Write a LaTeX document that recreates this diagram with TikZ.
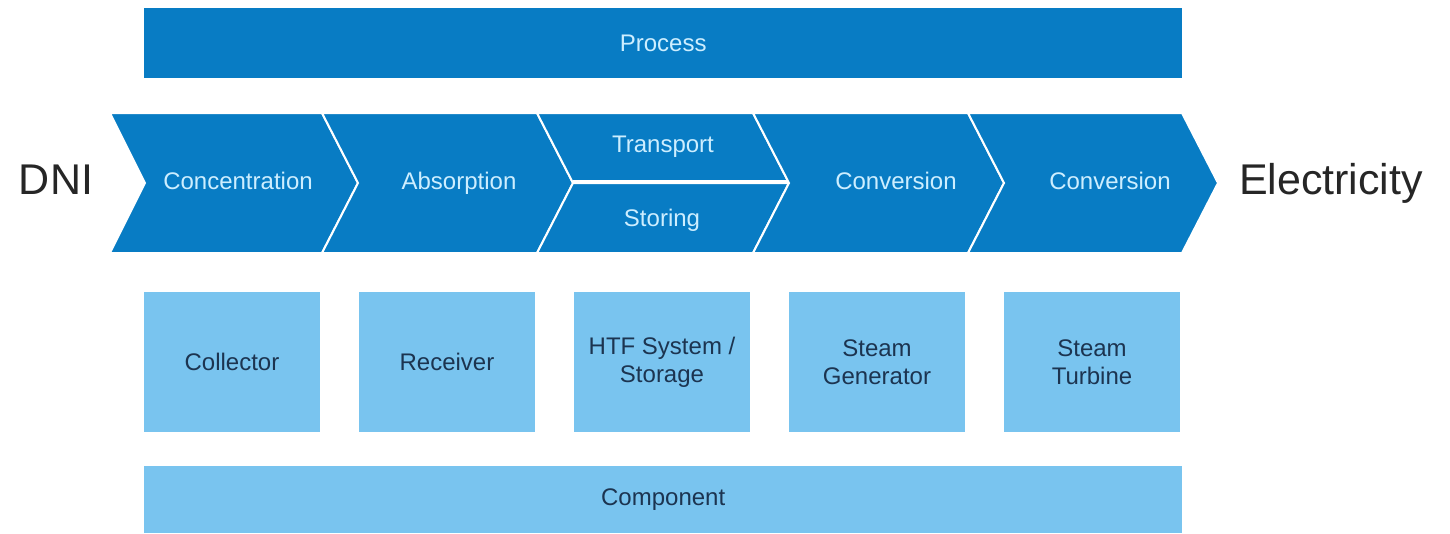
\documentclass[tikz,border=0pt]{standalone}
\usepackage{fontspec}
\setmainfont{Liberation Sans}
\definecolor{darkblue}{RGB}{8,124,196}
\definecolor{lightblue}{RGB}{121,196,239}
\definecolor{lighttext}{RGB}{205,238,255}
\definecolor{darktext}{RGB}{28,52,80}
\tikzset{
  chev/.style={fill=darkblue, draw=white, line width=2pt, line join=miter},
  chevtext/.style={text=lighttext, font=\fontsize{24}{28}\selectfont, inner sep=0pt, text height=17pt, text depth=5pt},
  compbox/.style={fill=lightblue, draw=none, minimum width=176pt, minimum height=140pt, inner sep=0pt,
    text=darktext, font=\fontsize{24}{28}\selectfont, align=center},
  bigtext/.style={text=black!85, font=\fontsize{43}{48}\selectfont, inner sep=0pt, text height=31pt, text depth=9pt}
}
\begin{document}
\begin{tikzpicture}[x=1pt,y=-1pt]
\useasboundingbox (0,0) rectangle (1450,533);
% Process bar
\node[fill=darkblue, minimum width=1038pt, minimum height=70pt, inner sep=0pt, anchor=north west,
  text=lighttext, font=\fontsize{24}{28}\selectfont] (process) at (144,8) {Process};
% chevrons
\draw[chev] (110,113) -- (322,113) -- (358,183) -- (322,253) -- (110,253) -- (145,183) -- cycle;
\draw[chev] (322,113) -- (537,113) -- (573,183) -- (537,253) -- (322,253) -- (358,183) -- cycle;
\draw[chev] (537,113) -- (753,113) -- (789,183) -- (573,183) -- cycle;
\draw[chev] (573,183) -- (789,183) -- (753,253) -- (537,253) -- cycle;
\draw[white, line width=4pt] (573,182) -- (789,182);
\draw[chev] (753,113) -- (968,113) -- (1004,183) -- (968,253) -- (753,253) -- (789,183) -- cycle;
\draw[chev] (968,113) -- (1182,113) -- (1218,183) -- (1182,253) -- (968,253) -- (1004,183) -- cycle;
\node[chevtext] (conc) at (238,183) {Concentration};
\node[chevtext] (abs) at (459,183) {Absorption};
\node[chevtext] (trans) at (663,146) {Transport};
\node[chevtext] (stor) at (662,220) {Storing};
\node[chevtext] (conv1) at (896,183) {Conversion};
\node[chevtext] (conv2) at (1110,183) {Conversion};
% side labels
\node[bigtext] (dni) at (56,183) {DNI};
\node[bigtext] (elec) at (1331,183) {Electricity};
% component boxes
\node[compbox] (coll) at (232,362) {Collector};
\node[compbox] (rec) at (447,362) {Receiver};
\node[compbox] (htf) at (662,362) {HTF System /\\Storage};
\node[compbox] (sg) at (877,362) {Steam\\Generator};
\node[compbox] (st) at (1092,362) {Steam\\Turbine};
% Component bar
\node[fill=lightblue, minimum width=1038pt, minimum height=67pt, inner sep=0pt, anchor=north west,
  text=darktext, font=\fontsize{24}{28}\selectfont] (component) at (144,466) {Component};
\end{tikzpicture}
\end{document}
